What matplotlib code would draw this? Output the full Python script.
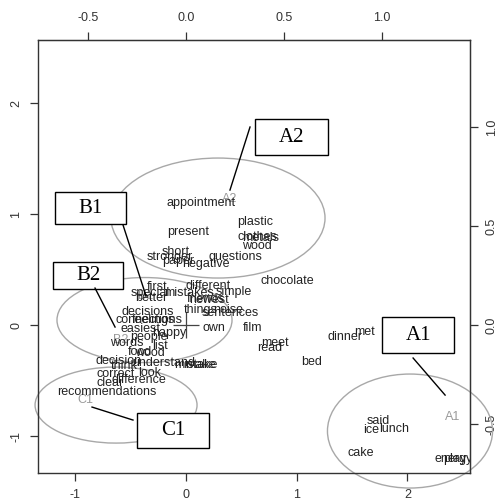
import matplotlib
matplotlib.use("Agg")
import matplotlib.pyplot as plt
from matplotlib.patches import Ellipse, Rectangle

plt.rcParams['axes.unicode_minus'] = False
plt.rcParams['font.family'] = ['Liberation Sans', 'DejaVu Sans']

# Word coordinates (principal axes 1 and 2)
words = ["appointment", "plastic", "present", "clothes", "metals", "wood",
         "short", "stronger", "paper", "negative", "questions", "chocolate",
         "different", "first", "mistakes", "simple", "special", "better",
         "friends", "newest", "things", "noise", "sentences", "own", "film",
         "decisions", "connections", "feelings", "easiest", "people", "happy",
         "words", "list", "food", "wood", "decision", "think", "understand",
         "mistake", "make", "correct", "look", "clear", "difference",
         "recommendations", "meet", "read", "bed", "dinner", "met",
         "said", "ice", "lunch", "cake", "energy", "play"]
word_x = [0.136, 0.623, 0.018, 0.641, 0.678, 0.641,
          -0.090, -0.145, -0.072, 0.181, 0.443, 0.912,
          0.199, -0.262, 0.027, 0.434, -0.325, -0.316,
          0.181, 0.208, 0.136, 0.379, 0.397, 0.253, 0.605,
          -0.343, -0.334, -0.298, -0.407, -0.334, -0.154,
          -0.533, -0.235, -0.416, -0.325, -0.605, -0.560, -0.199,
          0.090, 0.126, -0.632, -0.325, -0.687, -0.425,
          -0.714, 0.804, 0.759, 1.138, 1.436, 1.608,
          1.734, 1.671, 1.879, 1.581, 2.421, 2.430]
word_y = [1.099, 0.928, 0.838, 0.793, 0.784, 0.712,
          0.658, 0.613, 0.577, 0.550, 0.613, 0.396,
          0.351, 0.342, 0.288, 0.297, 0.288, 0.243,
          0.234, 0.225, 0.135, 0.135, 0.108, -0.027, -0.027,
          0.117, 0.045, 0.045, -0.036, -0.108, -0.072,
          -0.162, -0.189, -0.243, -0.252, -0.324, -0.369, -0.342,
          -0.360, -0.360, -0.441, -0.432, -0.523, -0.495,
          -0.604, -0.162, -0.207, -0.333, -0.108, -0.063,
          -0.865, -0.946, -0.937, -1.153, -1.207, -1.207]

# Cluster centroid labels
groups = ["A2", "B1", "B2", "C1", "A1"]
group_x = [0.397, -0.361, -0.587, -0.912, 2.412]
group_y = [1.135, 0.261, -0.135, -0.676, -0.829]

# Cluster ellipses: centre, width, height
ell_x = [0.289, -0.375, -0.632, 2.023]
ell_y = [0.964, 0.045, -0.721, -0.955]
ell_w = [1.933, 1.581, 1.463, 1.491]
ell_h = [1.081, 0.766, 0.685, 1.027]

xlim = (-1.337, 2.565)
ylim = (-1.333, 2.568)
kx, ky = 0.5648, 0.5606

fig = plt.figure(figsize=(5.01, 5.0), dpi=100)
ax = fig.add_axes([38 / 501, 27 / 500, 432 / 501, 433 / 500])
ax.set_xlim(*xlim)
ax.set_ylim(*ylim)

axis_col = '#333333'
for s in ax.spines.values():
    s.set_color(axis_col)
    s.set_linewidth(1.0)

ax.set_xticks([-1, 0, 1, 2])
ax.set_xticklabels(["-1", "0", "1", "2"])
ax.set_yticks([-1, 0, 1, 2])
ax.set_yticklabels(["-1", "0", "1", "2"], rotation=90, va='center')
ax.tick_params(direction='out', length=5.5, width=0.9, color=axis_col,
               labelsize=9, labelcolor=axis_col, pad=6)

top = ax.secondary_xaxis('top', functions=(lambda v: v * kx, lambda v: v / kx))
top.set_xticks([-0.5, 0.0, 0.5, 1.0])
top.set_xticklabels(["-0.5", "0.0", "0.5", "1.0"])
top.tick_params(direction='out', length=5.5, width=0.9, color=axis_col,
                labelsize=9, labelcolor=axis_col, pad=6)
top.spines['top'].set_color(axis_col)

right = ax.secondary_yaxis('right', functions=(lambda v: v * ky, lambda v: v / ky))
right.set_yticks([-0.5, 0.0, 0.5, 1.0])
right.set_yticklabels(["-0.5", "0.0", "0.5", "1.0"], rotation=90, va='center')
right.tick_params(direction='out', length=5.5, width=0.9, color=axis_col,
                  labelsize=9, labelcolor=axis_col, pad=6)
right.spines['right'].set_color(axis_col)

# origin cross
ax.plot([0], [0], marker='+', markersize=19, markeredgewidth=0.9,
        color='#444444', linestyle='none')

# ellipses
for cx, cy, w, h in zip(ell_x, ell_y, ell_w, ell_h):
    ax.add_patch(Ellipse((cx, cy), w, h, fill=False, edgecolor='#a8a8a8',
                         linewidth=1.0, clip_on=False, zorder=2))

# words
for t, x, y in zip(words, word_x, word_y):
    ax.text(x, y, t, ha='center', va='center', fontsize=9, color='#222222',
            clip_on=True, zorder=3)

# centroid labels
for t, x, y in zip(groups, group_x, group_y):
    ax.text(x, y, t, ha='center', va='center', fontsize=9, color='#9a9a9a',
            clip_on=True, zorder=2.5)

# callout boxes and leader lines
boxes = [("A2", 0.623, 1.532, 0.660, 0.324, (0.578, 1.784), (0.397, 1.216)),
         ("B1", -1.183, 0.910, 0.641, 0.288, (-0.569, 0.901), (-0.361, 0.261)),
         ("B2", -1.201, 0.324, 0.632, 0.244, (-0.822, 0.333), (-0.641, -0.018)),
         ("C1", -0.443, -1.108, 0.651, 0.315, (-0.479, -0.856), (-0.849, -0.739)),
         ("A1", 1.771, -0.252, 0.650, 0.324, (2.051, -0.297), (2.340, -0.631))]
for lab, bx, by, bw, bh, p0, p1 in boxes:
    ax.add_patch(Rectangle((bx, by), bw, bh, facecolor='white', edgecolor='black',
                           linewidth=1.0, clip_on=False, zorder=5))
    ax.text(bx + bw / 2, by + bh / 2, lab, ha='center', va='center',
            fontsize=15, family='Liberation Serif', color='black', zorder=6)
    ax.plot([p0[0], p1[0]], [p0[1], p1[1]], color='black', linewidth=1.0,
            zorder=5, clip_on=False)

fig.savefig("out.png", dpi=100)
